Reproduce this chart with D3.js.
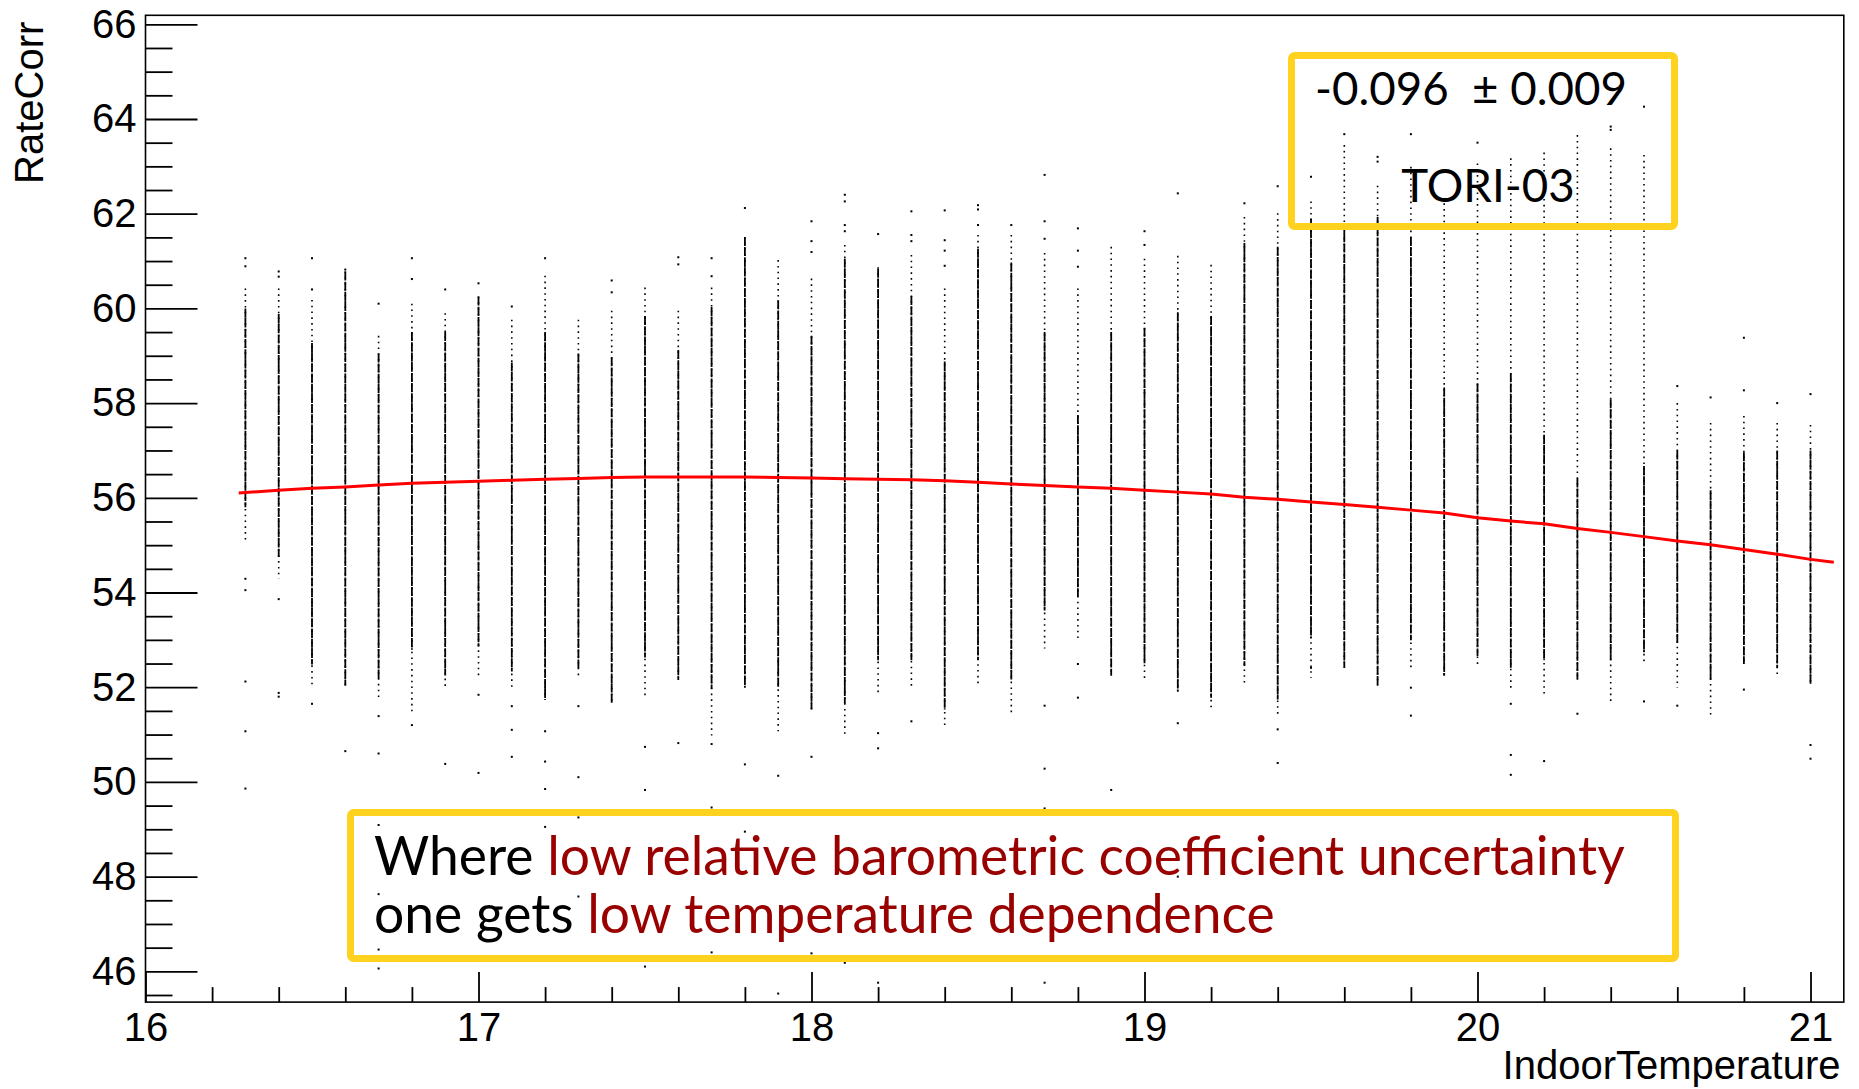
<!DOCTYPE html>
<html>
<head>
<meta charset="utf-8">
<script src="https://cdn.jsdelivr.net/npm/d3@7/dist/d3.min.js"></script>
<style>
  html, body { margin: 0; padding: 0; background: #fff; }
  svg { display: block; }
  .tick text { font-family: "Liberation Sans", Arial, Helvetica, sans-serif; }
</style>
</head>
<body>
<svg id="chart" width="1859" height="1089"></svg>
<script>
// Indoor temperature bins (one column of entries per bin)
const temps = [16.3,16.4,16.5,16.6,16.7,16.8,16.9,17.0,17.1,17.2,17.3,17.4,17.5,17.6,17.7,17.8,17.9,
  18.0,18.1,18.2,18.3,18.4,18.5,18.6,18.7,18.8,18.9,19.0,19.1,19.2,19.3,19.4,19.5,19.6,19.7,19.8,19.9,
  20.0,20.1,20.2,20.3,20.4,20.5,20.6,20.7,20.8,20.9,21.0];

// Densely populated RateCorr range per bin
const coreLo = [55.8,54.75,52.48,52.03,52.18,52.79,52.25,52.86,52.33,51.73,52.4,51.65,52.63,52.15,51.96,51.99,51.99,
  51.53,51.65,52.57,52.57,51.53,52.57,52.16,53.62,53.91,52.24,52.49,51.91,51.78,52.45,51.74,53.03,52.41,52.03,52.99,52.24,
  52.66,52.41,52.57,52.16,52.57,52.74,52.91,52.16,52.49,52.41,52.07];
const coreHi = [60.0,59.88,59.27,60.78,59.05,59.5,59.5,60.25,58.86,59.5,59.05,58.97,59.84,59.12,60.03,61.51,60.17,
  59.42,61.05,60.84,60.26,58.88,61.26,60.97,59.5,57.75,59.5,59.59,59.92,59.84,61.38,61.3,61.9,61.8,61.93,61.51,58.33,
  58.42,58.63,57.33,56.41,58.08,56.67,57.0,56.16,56.96,57.0,57.0];

// Sparsely populated tails per bin
const spreadLo = [55.1,54.29,52.0,52.03,51.78,51.43,52.0,52.18,51.92,51.73,52.22,51.65,51.75,52.15,50.98,51.96,51.07,
  51.53,50.95,51.87,51.99,51.14,52.03,51.4,52.82,52.95,52.24,52.16,51.91,51.53,52.03,51.44,52.2,52.41,52.03,52.41,52.24,
  52.41,51.99,51.86,52.16,51.7,52.49,51.99,51.36,52.49,52.2,52.07];
const spreadHi = [60.42,60.42,60.18,60.78,59.42,60.1,59.9,60.25,59.76,60.69,59.76,59.95,60.44,59.95,60.44,61.51,61.02,
  60.63,61.34,60.87,61.13,60.42,61.55,61.55,61.17,60.42,61.3,61.05,61.11,60.92,61.93,62.01,62.26,63.45,62.59,62.99,62.22,
  63.06,63.17,63.29,63.66,63.38,63.24,58.0,57.58,57.73,57.58,57.54];

// Isolated entries per bin
const strays = [
  [61.06,60.89,54.29,54.05,52.12,51.07,49.86],
  [60.78,60.67,53.86,51.88,51.8],
  [61.06,60.4,51.65],
  [60.82,50.65],
  [60.1,51.39,50.6,49.09,47.63,46.46,46.06],
  [61.06,60.62,51.2],
  [60.4,50.38],
  [60.53,51.84,50.19],
  [60.04,51.6,51.1,50.53],
  [61.06,51.07,50.43,49.85,49.05],
  [51.6,50.1,49.25,47.58],
  [60.59,60.34],
  [50.74,49.83,46.1],
  [61.08,60.93,50.82],
  [61.06,60.68,50.8,49.46,46.4],
  [62.12,50.37,48.95],
  [50.13,45.53],
  [61.84,61.42,61.19,50.53,46.38],
  [62.4,62.26,61.76,61.63,46.18],
  [61.57,51.03,50.71,45.76],
  [62.05,61.55,61.42,51.28],
  [62.07,61.44,61.22,60.9],
  [62.18,62.09,61.76],
  [61.76],
  [62.82,61.84,61.47,51.61,50.28,49.44,45.76],
  [61.69,61.22,60.88,52.49,51.78],
  [49.83],
  [61.63,61.34],
  [62.43,51.24,48.0],
  [],
  [62.22],
  [62.58,51.11,50.4],
  [62.78,52.41],
  [63.68],
  [63.2,63.1],
  [63.68,51.99,51.4],
  [],
  [63.5],
  [51.65,50.57,50.15],
  [50.44],
  [51.44],
  [63.84,63.77],
  [64.26,51.7],
  [58.36,51.61],
  [58.12],
  [59.38,58.27,51.95],
  [58.0],
  [58.19,50.78,50.49]
];

// Fitted curve, sampled along the temperature axis
const fitT = [16.28,16.4,16.5,16.6,16.7,16.8,16.9,17.0,17.1,17.2,17.3,17.4,17.5,17.6,17.7,17.8,17.9,
  18.0,18.1,18.2,18.3,18.4,18.5,18.6,18.7,18.8,18.9,19.0,19.1,19.2,19.3,19.4,19.5,19.6,19.7,19.8,19.9,
  20.0,20.1,20.2,20.3,20.4,20.5,20.6,20.7,20.8,20.9,21.0,21.07];
const fitV = [56.10,56.16,56.20,56.23,56.27,56.31,56.33,56.35,56.37,56.39,56.41,56.43,56.44,56.44,56.44,56.44,56.43,
  56.42,56.40,56.39,56.38,56.36,56.33,56.29,56.26,56.23,56.20,56.16,56.12,56.08,56.01,55.97,55.91,55.86,55.80,55.74,55.68,
  55.58,55.51,55.45,55.35,55.27,55.18,55.09,55.01,54.91,54.81,54.70,54.64];

// Axis ticks and labels
const xTicks = [16,17,18,19,20,21];
const yTicks = [46,48,50,52,54,56,58,60,62,64,66];
const xTitle = "IndoorTemperature";
const yTitle = "RateCorr";
const slopeText = "-0.096  \u00B1 0.009";
const stationText = "TORI-03";
const noteLine1 = [["Where ", "#000"], ["low relative barometric coefficient uncertainty", "#990000"]];
const noteLine2 = [["one gets ", "#000"], ["low temperature dependence", "#990000"]];

const svg = d3.select("#chart");
const x = d3.scaleLinear().domain([16, 21.1]).range([145.5, 1843.8]);
const y = d3.scaleLinear().domain([45.35, 66.19]).range([1002.1, 15.3]);

const axisFont = '"Liberation Sans", Arial, Helvetica, sans-serif';
const noteFont = 'Lato, "Open Sans", sans-serif';

// --- scatter columns ---
const cols = svg.append("g").attr("class", "columns");
temps.forEach((t, i) => {
  const cx = x(t);
  cols.append("line")
    .attr("x1", cx).attr("x2", cx)
    .attr("y1", y(spreadHi[i])).attr("y2", y(spreadLo[i]))
    .attr("stroke", "#000").attr("stroke-width", 1.6)
    .attr("stroke-dasharray", "1.6 4.2");
  cols.append("line")
    .attr("x1", cx).attr("x2", cx)
    .attr("y1", y(coreHi[i])).attr("y2", y(coreLo[i]))
    .attr("stroke", "#000").attr("stroke-width", 1.8)
    .attr("stroke-dasharray", "9 1.2");
  cols.selectAll(null).data(strays[i]).enter().append("rect")
    .attr("x", cx - 1).attr("y", d => y(d) - 1)
    .attr("width", 2).attr("height", 2)
    .attr("fill", "#000");
});

// --- fitted curve ---
svg.append("path")
  .datum(fitT.map((t, i) => [t, fitV[i]]))
  .attr("fill", "none")
  .attr("stroke", "#ff0000")
  .attr("stroke-width", 3)
  .attr("d", d3.line().x(d => x(d[0])).y(d => y(d[1])));

// --- frame ---
svg.append("rect")
  .attr("x", x(16)).attr("y", y(66.19))
  .attr("width", x(21.1) - x(16)).attr("height", y(45.35) - y(66.19))
  .attr("fill", "none").attr("stroke", "#000").attr("stroke-width", 1.6);

// --- axes ---
const xMinor = d3.range(16.2, 21.05, 0.2).filter(v => Math.abs(v - Math.round(v)) > 1e-6);
const yMinor = d3.range(45.5, 66.01, 0.5).filter(v => Math.abs(v / 2 - Math.round(v / 2)) > 1e-6);

const gx = svg.append("g").attr("transform", `translate(0,${y(45.35)})`);
gx.append("g").call(d3.axisBottom(x).tickValues(xMinor).tickSize(-15).tickFormat(""));
gx.append("g").call(d3.axisBottom(x).tickValues(xTicks).tickSize(-30).tickPadding(11).tickFormat(d3.format("d")));

const gy = svg.append("g").attr("transform", `translate(${x(16)},0)`);
gy.append("g").call(d3.axisLeft(y).tickValues(yMinor).tickSize(-27).tickFormat(""));
gy.append("g").call(d3.axisLeft(y).tickValues(yTicks).tickSize(-52).tickPadding(9).tickFormat(d3.format("d")));

svg.selectAll(".domain").remove();
svg.selectAll(".tick line").attr("stroke", "#000").attr("stroke-width", 1.8);
svg.selectAll(".tick text").attr("font-size", 40).attr("fill", "#000").attr("font-family", axisFont);

svg.append("text")
  .attr("x", 1840.5).attr("y", 1079)
  .attr("text-anchor", "end")
  .attr("font-family", axisFont).attr("font-size", 40)
  .text(xTitle);

svg.append("text")
  .attr("transform", "translate(43,21.7) rotate(-90)")
  .attr("text-anchor", "end")
  .attr("font-family", axisFont).attr("font-size", 40)
  .text(yTitle);

// --- annotation boxes ---
const boxColor = "#FFD21F";
svg.append("rect")
  .attr("x", 1291.5).attr("y", 55.5).attr("width", 383).attr("height", 171)
  .attr("rx", 3).attr("fill", "none").attr("stroke", boxColor).attr("stroke-width", 7);
svg.append("rect")
  .attr("x", 350.5).attr("y", 812.5).attr("width", 1325).attr("height", 146)
  .attr("rx", 3).attr("fill", "none").attr("stroke", boxColor).attr("stroke-width", 7);

function fitSize(sel, target) {
  sel.attr("font-size", 50);
  const w = sel.node().getComputedTextLength();
  return 50 * target / w;
}

const slope = svg.append("text")
  .attr("x", 1315).attr("y", 105)
  .attr("font-family", noteFont)
  .style("white-space", "pre")
  .attr("fill", "#000")
  .text(slopeText);
const s1 = fitSize(slope, 312);
slope.attr("font-size", s1);

svg.append("text")
  .attr("x", 1488).attr("y", 201.5)
  .attr("text-anchor", "middle")
  .attr("font-family", noteFont)
  .attr("font-size", s1)
  .attr("fill", "#000")
  .text(stationText);

function noteText(parts, xPos, yPos) {
  const t = svg.append("text")
    .attr("x", xPos).attr("y", yPos)
    .attr("font-family", noteFont)
    .style("white-space", "pre");
  parts.forEach(p => t.append("tspan").attr("fill", p[1]).text(p[0]));
  return t;
}
const n1 = noteText(noteLine1, 374, 875);
const s2 = fitSize(n1, 1251);
n1.attr("font-size", s2);
const n2 = noteText(noteLine2, 374, 933);
n2.attr("font-size", s2);
</script>
</body>
</html>
